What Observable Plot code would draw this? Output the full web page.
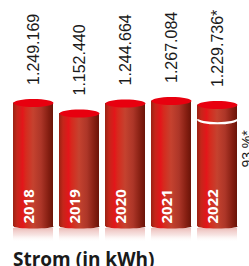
<!DOCTYPE html>
<html><head><meta charset="utf-8">
<script src="https://cdn.jsdelivr.net/npm/d3@7"></script>
<script src="https://cdn.jsdelivr.net/npm/@observablehq/plot@0.6"></script>
<style>
body{margin:0;background:#fff;}
#cap{font-family:"Open Sans";font-weight:bold;font-size:19px;line-height:20px;margin:3px 0 0 13px;color:#1a1a1a;white-space:nowrap}
</style>
</head><body><div id="chart"></div>
<script>
const years = ["2018", "2019", "2020", "2021", "2022"];
const values = [1249169, 1152440, 1244664, 1267084, 1229736];
const valueLabels = ["1.249.169", "1.152.440", "1.244.664", "1.267.084", "1.229.736*"];
const baseValue = 100000;
const markYear = "2022";
const markValue = 1100000;
const markLabel = "93 %*";
const captionText = "Strom (in kWh)";

const data = years.map((y, i) => ({year: y, value: values[i], label: valueLabels[i], base: baseValue}));
const markData = [{year: markYear, value: markValue, label: markLabel}];

const K = 0.5523;
function ellipseSymbol(a, b) {
  return {draw(c) {
    c.moveTo(a, 0);
    c.bezierCurveTo(a, K * b, K * a, b, 0, b);
    c.bezierCurveTo(-K * a, b, -a, K * b, -a, 0);
    c.bezierCurveTo(-a, -K * b, -K * a, -b, 0, -b);
    c.bezierCurveTo(K * a, -b, a, -K * b, a, 0);
    c.closePath();
  }};
}
function lowerArcSymbol(a, b) {
  return {draw(c) {
    c.moveTo(-a, 0);
    c.bezierCurveTo(-a, K * b, -K * a, b, 0, b);
    c.bezierCurveTo(K * a, b, a, K * b, a, 0);
  }};
}

const plot = Plot.plot({
  width: 249,
  height: 246,
  marginLeft: 12,
  marginRight: 11,
  marginTop: 0,
  marginBottom: 18,
  x: {domain: years, paddingInner: 0.1304, paddingOuter: 0, axis: null},
  y: {domain: [baseValue, 1300000], range: [228, 96.9], axis: null},
  marks: [
    Plot.barY(data, {x: "year", y1: "base", y2: "base", insetBottom: -14, fill: "url(#cylRefl)"}),
    Plot.dot(data, {x: "year", y: "base", dy: -2, symbol: ellipseSymbol(20, 2), r: 5, fill: "url(#cylBody)", stroke: "none"}),
    Plot.barY(data, {x: "year", y1: "base", y2: "value", insetBottom: 2, fill: "url(#cylBody)"}),
    Plot.dot(data, {x: "year", y: "value", symbol: ellipseSymbol(20, 4), r: 5, fill: "#e8000f", stroke: "none"}),
    Plot.dot(markData, {x: "year", y: "value", symbol: lowerArcSymbol(19.5, 4), r: 5, fill: "none", stroke: "#ffffff", strokeWidth: 2.2}),
    Plot.text(data, {x: "year", y: "value", text: "label", rotate: -90, textAnchor: "start",
      dy: -18, fontSize: 16, fontFamily: "Liberation Sans", fill: "#1a1a1a"}),
    Plot.text(data, {x: "year", frameAnchor: "bottom", text: "year", rotate: -90, textAnchor: "start",
      dy: -5, fontSize: 15, fontWeight: "bold", fontFamily: "Open Sans", fill: "#ffffff"}),
    Plot.text(markData, {x: "year", y: "value", text: "label",
      rotate: -90, textAnchor: "end", dx: 30, dy: 11, fontSize: 14, fontFamily: "Liberation Sans", fill: "#1a1a1a"})
  ]
});

const svg = d3.select(plot);
const defs = svg.insert("defs", ":first-child");
const lg = defs.append("linearGradient").attr("id", "cylBody")
  .attr("x1", 0).attr("x2", 1).attr("y1", 0).attr("y2", 0);
[[0, "#9a2214"], [0.1, "#c4261a"], [0.24, "#e3161a"], [0.32, "#d62a1e"],
 [0.5, "#c5422f"], [0.7, "#ad3628"], [0.88, "#861f12"], [1, "#6a1408"]]
  .forEach(([o, c]) => lg.append("stop").attr("offset", o).attr("stop-color", c));
const rg = defs.append("linearGradient").attr("id", "cylRefl")
  .attr("x1", 0).attr("x2", 0).attr("y1", 0).attr("y2", 1);
[[0, "#e9b4b0", 0.9], [0.5, "#f4d8d6", 0.7], [1, "#ffffff", 0]]
  .forEach(([o, c, a]) => rg.append("stop").attr("offset", o).attr("stop-color", c).attr("stop-opacity", a));

document.getElementById("chart").appendChild(plot);
const cap = document.createElement("div");
cap.id = "cap";
cap.textContent = captionText;
document.getElementById("chart").appendChild(cap);
</script>
</body></html>
